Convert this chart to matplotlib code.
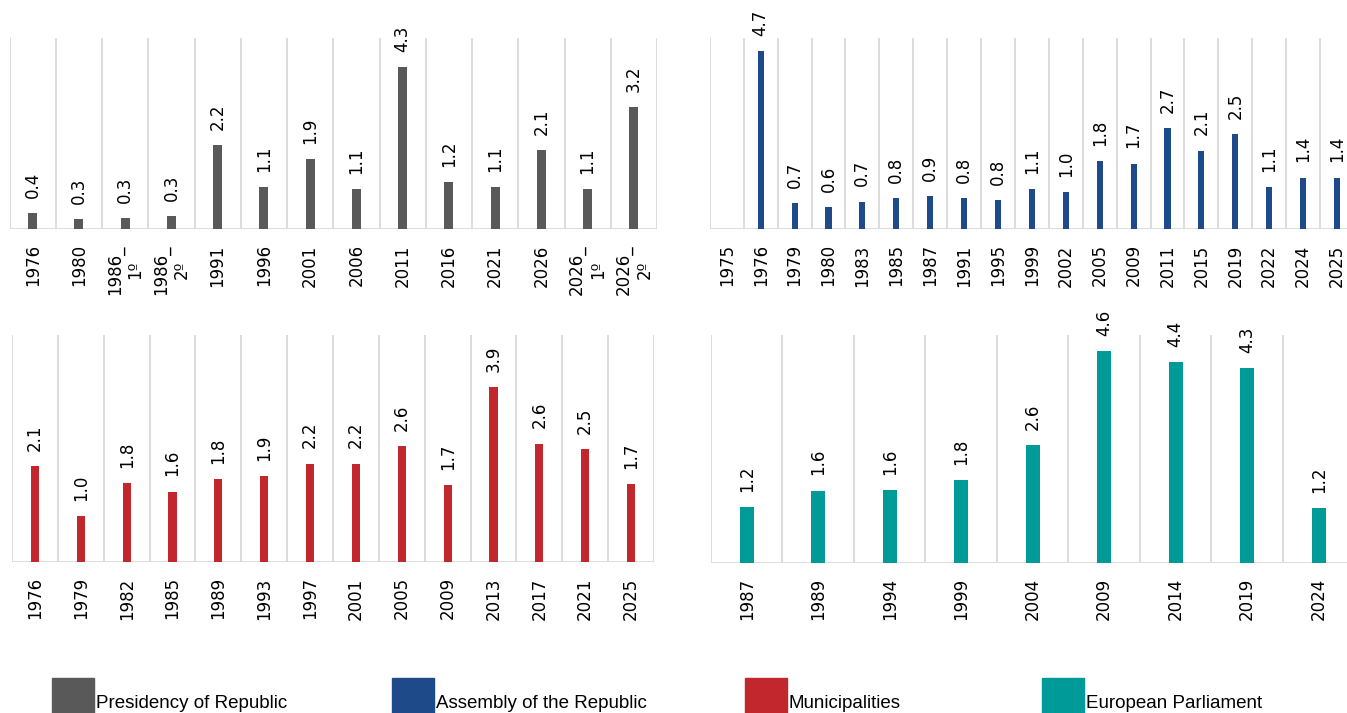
import matplotlib
matplotlib.use('Agg')
import matplotlib.pyplot as plt
import numpy as np
from matplotlib.patches import Rectangle

# dados
pres_labels = ['1976', '1980', '1986_\n1º', '1986_\n2º', '1991', '1996', '2001', '2006',
               '2011', '2016', '2021', '2026', '2026_\n1º', '2026_\n2º']
pres_values = [0.42, 0.27, 0.29, 0.34, 2.23, 1.11, 1.86, 1.06, 4.30, 1.24, 1.11, 2.10, 1.06, 3.24]

ar_labels = ['1975', '1976', '1979', '1980', '1983', '1985', '1987', '1991', '1995', '1999',
             '2002', '2005', '2009', '2011', '2015', '2019', '2022', '2024', '2025']
ar_values = [np.nan, 4.70, 0.69, 0.57, 0.72, 0.82, 0.86, 0.81, 0.76, 1.06,
             0.98, 1.79, 1.73, 2.66, 2.07, 2.50, 1.11, 1.36, 1.36]

mun_labels = ['1976', '1979', '1982', '1985', '1989', '1993', '1997', '2001', '2005', '2009',
              '2013', '2017', '2021', '2025']
mun_values = [2.14, 1.02, 1.76, 1.57, 1.84, 1.91, 2.19, 2.19, 2.58, 1.72, 3.90, 2.64, 2.51, 1.74]

pe_labels = ['1987', '1989', '1994', '1999', '2004', '2009', '2014', '2019', '2024']
pe_values = [1.21, 1.58, 1.59, 1.81, 2.57, 4.63, 4.39, 4.26, 1.19]

series_names = ['Presidency of Republic', 'Assembly of the Republic', 'Municipalities', 'European Parliament']
cores = ['#595959', '#1F4A8A', '#C1272D', '#009A98']

W, H = 1347, 713
fig = plt.figure(figsize=(W / 100, H / 100), dpi=100)
plt.rcParams['font.family'] = ['DejaVu Sans']

def px_axes(x0, x1, ytop, ybase):
    return fig.add_axes([x0 / W, 1 - ybase / H, (x1 - x0) / W, (ybase - ytop) / H])

def painel(ax, labels, values, cor, ytop, largura=0.19):
    n = len(labels)
    x = np.arange(n)
    ax.bar(x, values, width=largura, color=cor, zorder=3)
    for xi, v in zip(x, values):
        if np.isnan(v):
            continue
        ax.annotate('%.1f' % v, (xi, v), xytext=(0, 11), textcoords='offset points',
                    rotation=90, ha='center', va='bottom', fontsize=12, color='#000000')
    for b in np.arange(-0.5, n, 1.0):
        ax.axvline(b, color='#D9D9D9', lw=1.3, zorder=1)
    ax.axhline(0, color='#D9D9D9', lw=2, zorder=2)
    ax.set_xlim(-0.5, n - 0.5)
    ax.set_ylim(0, ytop)
    ax.set_xticks(x)
    ax.set_xticklabels(labels, rotation=90, fontsize=12, ha='center', va='top',
                       multialignment='center')
    ax.tick_params(axis='x', length=0, pad=11)
    ax.set_yticks([])
    for s in ax.spines.values():
        s.set_visible(False)

ax1 = px_axes(9.5, 657, 38, 229)
painel(ax1, pres_labels, pres_values, cores[0], 5.07)
ax2 = px_axes(709.8, 1354, 38, 229)
painel(ax2, ar_labels, ar_values, cores[1], 5.05, 0.18)
ax3 = px_axes(12, 654, 335, 562)
painel(ax3, mun_labels, mun_values, cores[2], 5.06, 0.18)
ax4 = px_axes(711, 1354.5, 335, 562.7)
painel(ax4, pe_labels, pe_values, cores[3], 4.99)

# legenda
leg_x = [52, 392, 745, 1042]
for xp, nome, cor in zip(leg_x, series_names, cores):
    fig.patches.append(Rectangle((xp / W, -0.02), 42 / W, (713 - 678) / H + 0.02,
                                 transform=fig.transFigure, color=cor, zorder=5))
    fig.text((xp + 44) / W, 1 - 708 / H, nome, fontsize=13.5,
             family=['Liberation Sans Narrow', 'Liberation Sans', 'DejaVu Sans'],
             ha='left', va='baseline')

fig.savefig('out.png', dpi=100)
